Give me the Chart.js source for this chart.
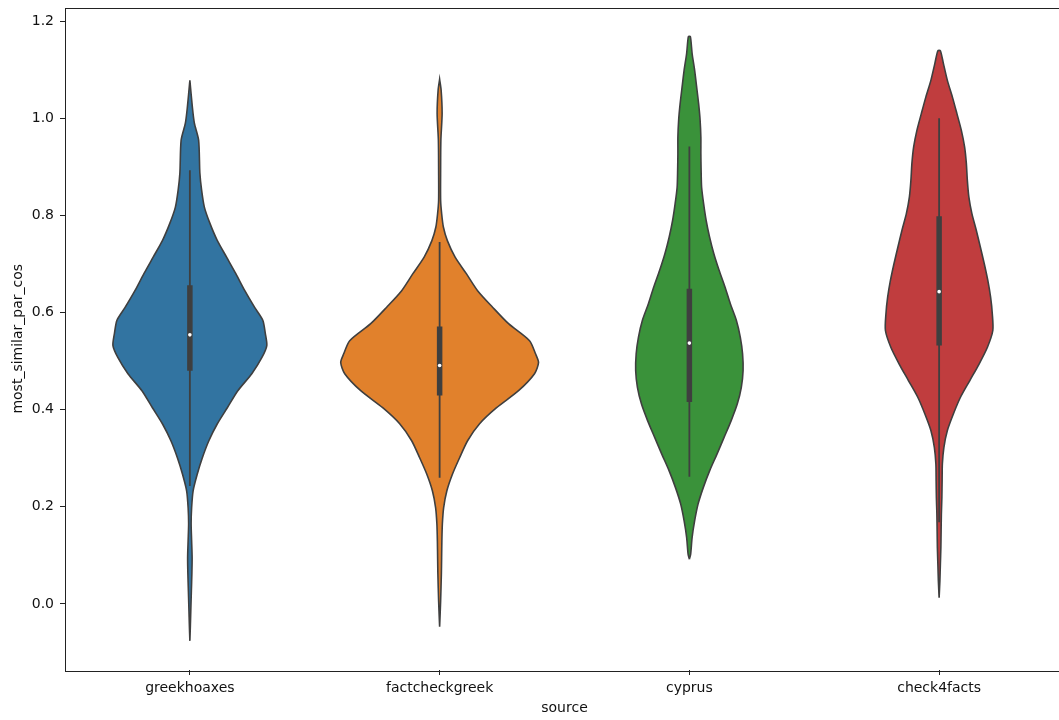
<!DOCTYPE html>
<html>
<head>
<meta charset="utf-8">
<script src="https://cdn.jsdelivr.net/npm/chart.js@4.4.1/dist/chart.umd.min.js"></script>
<style>
  html, body { margin: 0; padding: 0; background: #ffffff; overflow: hidden; }
  #wrap { width: 1080px; height: 720px; }
</style>
</head>
<body>
<div id="wrap"><canvas id="chart" width="1080" height="720"></canvas></div>
<script>
// ---- data -------------------------------------------------------------
const categories = ['greekhoaxes', 'factcheckgreek', 'cyprus', 'check4facts'];

// kernel density profiles: value grid and half-width (in category units)
const greekhoaxesValues = [-0.076, -0.045, -0.008, 0.027, 0.062, 0.095, 0.130, 0.165, 0.198, 0.233, 0.268, 0.301, 0.336, 0.371, 0.404, 0.439, 0.474, 0.507, 0.532, 0.557, 0.584, 0.610, 0.645, 0.680, 0.714, 0.748, 0.784, 0.817, 0.852, 0.887, 0.955, 0.990, 1.023, 1.078];
const greekhoaxesWidths = [0, 0.002, 0.004, 0.006, 0.008, 0.009, 0.007, 0.005, 0.007, 0.013, 0.030, 0.050, 0.076, 0.110, 0.150, 0.192, 0.248, 0.288, 0.308, 0.302, 0.292, 0.260, 0.220, 0.184, 0.147, 0.110, 0.080, 0.058, 0.047, 0.040, 0.035, 0.018, 0.010, 0];

const factcheckgreekValues = [-0.047, 0.006, 0.062, 0.095, 0.130, 0.165, 0.198, 0.233, 0.268, 0.301, 0.336, 0.371, 0.404, 0.439, 0.474, 0.497, 0.515, 0.542, 0.577, 0.611, 0.645, 0.680, 0.714, 0.748, 0.776, 0.804, 0.831, 0.893, 0.955, 1.010, 1.058, 1.080];
const factcheckgreekWidths = [0, 0.004, 0.007, 0.008, 0.009, 0.011, 0.016, 0.029, 0.052, 0.080, 0.112, 0.160, 0.228, 0.316, 0.380, 0.396, 0.384, 0.360, 0.276, 0.212, 0.152, 0.107, 0.062, 0.031, 0.015, 0.008, 0.004, 0.004, 0.005, 0.010, 0.006, 0];

const cyprusValues = [0.092, 0.102, 0.137, 0.171, 0.206, 0.240, 0.274, 0.309, 0.343, 0.377, 0.412, 0.446, 0.480, 0.515, 0.549, 0.584, 0.618, 0.652, 0.687, 0.721, 0.755, 0.790, 0.824, 0.858, 0.893, 0.927, 0.961, 0.996, 1.030, 1.065, 1.099, 1.133, 1.168];
const cyprusWidths = [0, 0.005, 0.011, 0.021, 0.035, 0.056, 0.081, 0.111, 0.139, 0.167, 0.192, 0.208, 0.215, 0.213, 0.204, 0.188, 0.164, 0.143, 0.119, 0.098, 0.081, 0.067, 0.057, 0.049, 0.047, 0.046, 0.046, 0.043, 0.037, 0.029, 0.021, 0.011, 0.004];

const check4factsValues = [0.013, 0.047, 0.082, 0.116, 0.151, 0.185, 0.219, 0.254, 0.288, 0.322, 0.357, 0.391, 0.425, 0.460, 0.494, 0.528, 0.563, 0.597, 0.632, 0.666, 0.700, 0.735, 0.769, 0.804, 0.838, 0.872, 0.907, 0.941, 0.975, 1.010, 1.044, 1.078, 1.113, 1.139];
const check4factsWidths = [0, 0.003, 0.005, 0.007, 0.008, 0.009, 0.011, 0.012, 0.013, 0.019, 0.033, 0.057, 0.085, 0.123, 0.160, 0.193, 0.215, 0.213, 0.206, 0.195, 0.181, 0.165, 0.149, 0.131, 0.119, 0.113, 0.109, 0.102, 0.089, 0.071, 0.053, 0.033, 0.017, 0.005];

// box summary per category
const whiskerLow  = [0.243, 0.260, 0.262, 0.168];
const quartile1   = [0.480, 0.429, 0.416, 0.532];
const medians     = [0.554, 0.491, 0.537, 0.643];
const quartile3   = [0.656, 0.571, 0.649, 0.798];
const whiskerHigh = [0.893, 0.745, 0.942, 1.000];

const yTickValues = [0.0, 0.2, 0.4, 0.6, 0.8, 1.0, 1.2];

// ---- styling ----------------------------------------------------------
const violinColors = ['#3274a1', '#e1812c', '#3a923a', '#c03d3e'];
const lineGray = '#3f3f3f';
const axisColor = '#222222';
const textColor = '#111111';

const profiles = [
  [greekhoaxesValues, greekhoaxesWidths],
  [factcheckgreekValues, factcheckgreekWidths],
  [cyprusValues, cyprusWidths],
  [check4factsValues, check4factsWidths]
];

// closed outline: left side upward, right side back down
function outline(index, values, widths) {
  const left = values.map((v, k) => ({ x: index - widths[k], y: v }));
  const right = values.map((v, k) => ({ x: index + widths[k], y: v })).reverse();
  return left.concat(right);
}

const datasets = [];
profiles.forEach(([vals, wids], i) => {
  datasets.push({
    data: outline(i, vals, wids),
    borderColor: lineGray,
    borderWidth: 1.6,
    backgroundColor: violinColors[i],
    fill: 'shape',
    tension: 0.25,
    pointRadius: 0,
    order: 3
  });
});
categories.forEach((_, i) => {
  datasets.push({
    data: [{ x: i, y: whiskerLow[i] }, { x: i, y: whiskerHigh[i] }],
    borderColor: lineGray,
    borderWidth: 1.8,
    borderCapStyle: 'butt',
    pointRadius: 0,
    fill: false,
    order: 2
  });
  datasets.push({
    data: [{ x: i, y: quartile1[i] }, { x: i, y: quartile3[i] }],
    borderColor: lineGray,
    borderWidth: 5.5,
    borderCapStyle: 'butt',
    pointRadius: 0,
    fill: false,
    order: 2
  });
});
datasets.push({
  data: categories.map((_, i) => ({ x: i, y: medians[i] })),
  showLine: false,
  pointRadius: 1.8,
  pointBorderWidth: 0,
  pointBackgroundColor: '#ffffff',
  order: 1
});

// full rectangular frame around the plotting area
const framePlugin = {
  id: 'frame',
  afterDatasetsDraw(chart) {
    const { ctx, chartArea: a } = chart;
    ctx.save();
    ctx.strokeStyle = axisColor;
    ctx.lineWidth = 1;
    ctx.strokeRect(Math.round(a.left) + 0.5, Math.round(a.top) + 0.5,
                   Math.round(a.right - a.left), Math.round(a.bottom - a.top));
    ctx.restore();
  }
};

Chart.defaults.font.family = "'DejaVu Sans', sans-serif";
Chart.defaults.font.size = 14;
Chart.defaults.color = textColor;

new Chart(document.getElementById('chart'), {
  type: 'line',
  data: { datasets },
  options: {
    responsive: false,
    animation: false,
    events: [],
    layout: { padding: { top: 7.5, right: 16, left: 0, bottom: 0 } },
    plugins: { legend: { display: false }, tooltip: { enabled: false } },
    scales: {
      x: {
        type: 'linear',
        min: -0.5,
        max: 3.5,
        afterBuildTicks: (s) => { s.ticks = categories.map((_, i) => ({ value: i })); },
        afterFit: (s) => { s.height = 50; s.paddingLeft = 0; s.paddingRight = 0; },
        ticks: {
          callback: (v) => categories[v] ?? '',
          padding: 5,
          maxRotation: 0,
          autoSkip: false,
          color: textColor
        },
        grid: { display: true, drawOnChartArea: false, drawTicks: true, tickLength: 5, tickColor: axisColor },
        border: { display: false },
        title: { display: true, text: 'source', color: textColor, padding: { top: 0, bottom: 3 }, font: { size: 14 } }
      },
      y: {
        type: 'linear',
        min: -0.136,
        max: 1.228,
        afterBuildTicks: (s) => { s.ticks = yTickValues.map((v) => ({ value: v })); },
        afterFit: (s) => { s.width = 65; s.paddingTop = 0; s.paddingBottom = 0; },
        ticks: {
          callback: (v) => Number(v).toFixed(1),
          padding: 6,
          color: textColor
        },
        grid: { display: true, drawOnChartArea: false, drawTicks: true, tickLength: 5, tickColor: axisColor },
        border: { display: false },
        title: { display: true, text: 'most_similar_par_cos', color: textColor, padding: { top: 10, bottom: 0 }, font: { size: 14 } }
      }
    }
  },
  plugins: [framePlugin]
});
</script>
</body>
</html>
